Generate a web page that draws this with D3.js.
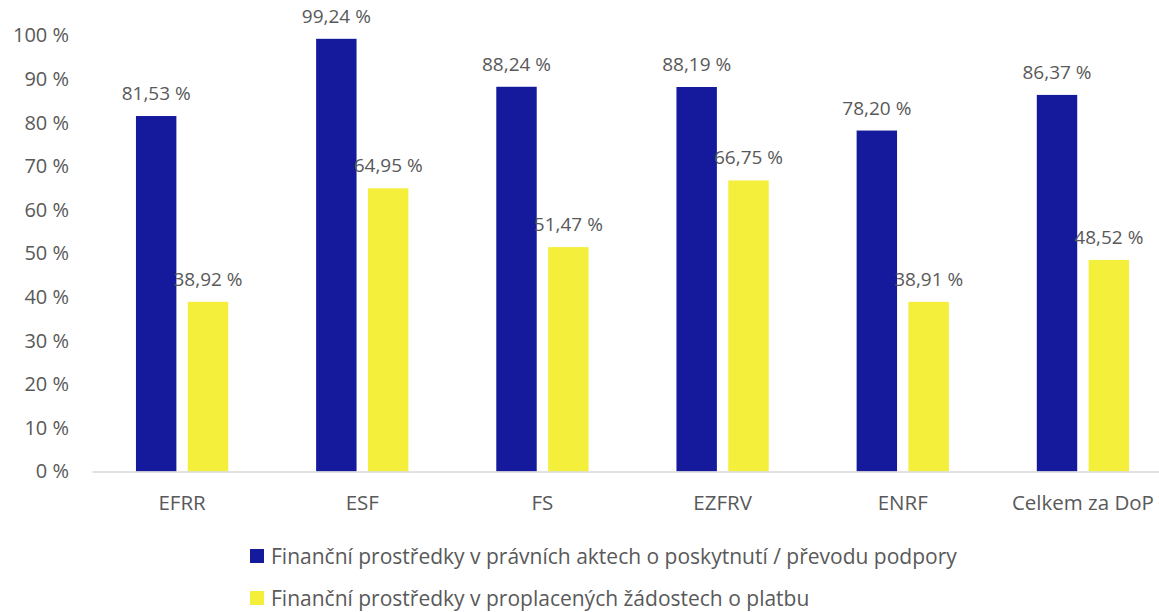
<!DOCTYPE html>
<html>
<head>
<meta charset="utf-8">
<script src="https://cdn.jsdelivr.net/npm/d3@7/dist/d3.min.js"></script>
<style>
  body { margin: 0; background: #fff; }
  svg text { font-family: "Open Sans", sans-serif; fill: #595959; }
</style>
</head>
<body>
<div id="chart"></div>
<script>
// categories and the two series (values in %)
const categories = ["EFRR", "ESF", "FS", "EZFRV", "ENRF", "Celkem za DoP"];
const seriesNames = [
  "Finanční prostředky v právních aktech o poskytnutí / převodu podpory",
  "Finanční prostředky v proplacených žádostech o platbu"
];
const legalActs = [81.53, 99.24, 88.24, 88.19, 78.20, 86.37];
const paidClaims = [38.92, 64.95, 51.47, 66.75, 38.91, 48.52];
const yTicks = [0, 10, 20, 30, 40, 50, 60, 70, 80, 90, 100];
const colors = ["#15199b", "#f3ef3a"];

const W = 1159, H = 612;
const fmt = v => v.toFixed(2).replace(".", ",") + " %";

const svg = d3.select("#chart").append("svg")
  .attr("width", W).attr("height", H);

// x: one band per category, plot runs a bit past the right edge like the original
const x0 = d3.scaleBand().domain(categories).range([92, 1173]).padding(0);
const bw = x0.bandwidth();
const x1 = d3.scaleBand().domain([0, 1])
  .range([bw * 0.244, bw * 0.756]).paddingInner(0.22).paddingOuter(0);

const y = d3.scaleLinear().domain([0, 100]).range([471.5, 35.5]);

// y axis labels
const yAxis = svg.append("g")
  .attr("transform", "translate(92,0)")
  .call(d3.axisLeft(y).tickValues(yTicks).tickSize(0).tickPadding(23).tickFormat(d => d + " %"));
yAxis.select(".domain").remove();
yAxis.selectAll("text").style("font-size", "20px").attr("fill", null);

// bars
const rows = categories.map((c, i) => ({ cat: c, vals: [legalActs[i], paidClaims[i]] }));
const groups = svg.selectAll("g.cat")
  .data(rows)
  .enter()
  .append("g")
  .attr("class", "cat")
  .attr("transform", d => `translate(${x0(d.cat)},0)`);

groups.selectAll("rect")
  .data(d => d.vals.map((v, k) => ({ v, k })))
  .enter()
  .append("rect")
  .attr("x", d => x1(d.k))
  .attr("width", x1.bandwidth())
  .attr("y", d => y(d.v))
  .attr("height", d => y(0) - y(d.v))
  .attr("fill", d => colors[d.k]);

// value labels
groups.selectAll("text.val")
  .data(d => d.vals.map((v, k) => ({ v, k })))
  .enter()
  .append("text")
  .attr("class", "val")
  .attr("x", d => x1(d.k) + x1.bandwidth() / 2)
  .attr("y", d => y(d.v) - 16)
  .attr("text-anchor", "middle")
  .style("font-size", "19px")
  .text(d => fmt(d.v));

// x axis line + category labels
const xAxis = svg.append("g")
  .attr("transform", `translate(0,${y(0)})`)
  .call(d3.axisBottom(x0).tickSize(0).tickPadding(24));
xAxis.select(".domain").attr("stroke", "#d9d9d9").attr("stroke-width", 1.3);
xAxis.selectAll("text").style("font-size", "20.5px").attr("fill", null);

// legend, two rows (second row kept just inside the bottom edge)
const legend = svg.append("g").attr("transform", "translate(250,0)");
const items = legend.selectAll("g")
  .data(seriesNames)
  .enter()
  .append("g")
  .attr("transform", (d, i) => `translate(0,${556 + i * 42})`);
items.append("rect")
  .attr("x", 0).attr("y", -7)
  .attr("width", 14).attr("height", 14)
  .attr("fill", (d, i) => colors[i]);
items.append("text")
  .attr("x", 21).attr("y", 7.5)
  .style("font-size", "21px")
  .text(d => d);
</script>
</body>
</html>
